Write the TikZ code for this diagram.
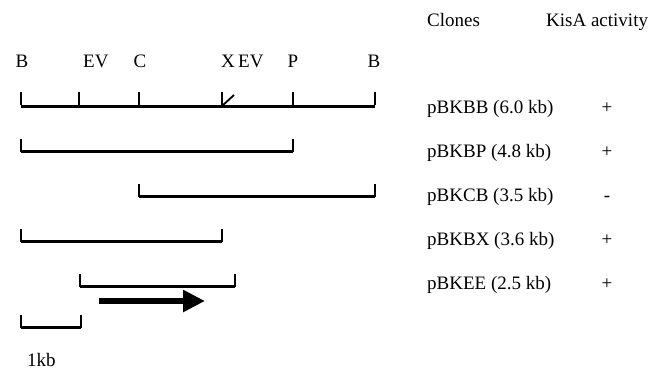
\documentclass[tikz,border=0pt]{standalone}
\usepackage{fontspec}
\setmainfont{Liberation Serif}
\usetikzlibrary{arrows.meta}
\begin{document}
\begin{tikzpicture}[x=1pt,y=-1pt,
  lbl/.style={font=\fontsize{19}{21}\selectfont, inner sep=0pt},
  bar/.style={line width=3pt, line cap=butt},
  tick/.style={line width=1.8pt},
]
\useasboundingbox (0,0) rectangle (654,373);
% header
\node[lbl, anchor=base west] (hclones) at (427,26) {Clones};
\node[lbl, anchor=base west] (hkisa) at (546,26) {KisA activity};
% site labels
\node[lbl, anchor=base] (lB1) at (22,67) {B};
\node[lbl, anchor=base west] (lEV1) at (83,67) {EV};
\node[lbl, anchor=base] (lC) at (140,67) {C};
\node[lbl, anchor=base west] (lX) at (221,67) {X};
\node[lbl, anchor=base west] (lEV2) at (238,67) {EV};
\node[lbl, anchor=base] (lP) at (293,67) {P};
\node[lbl, anchor=base] (lB2) at (374,67) {B};
% site coordinates
\coordinate (B1) at (21,106);
\coordinate (EV1) at (79,106);
\coordinate (C) at (139,106);
\coordinate (X) at (222,106);
\coordinate (P) at (293,106);
\coordinate (B2) at (375,106);
% row 1 : full map
\draw[bar] (B1) -- (B2);
\foreach \p in {B1,EV1,C,X,P,B2} \draw[tick] ([yshift=0.8pt]\p) -- ++(0,-13);
\draw[tick] (X) -- ++(12,-11);
% row 2 : B-P
\draw[bar] (21,151) -- (293,151);
\draw[tick] (21,151.8) -- ++(0,-13);
\draw[tick] (293,151.8) -- ++(0,-13);
% row 3 : C-B
\draw[bar] (139,196) -- (375,196);
\draw[tick] (139,196.8) -- ++(0,-13);
\draw[tick] (375,196.8) -- ++(0,-13);
% row 4 : B-X
\draw[bar] (21,241) -- (222,241);
\draw[tick] (21,241.8) -- ++(0,-13);
\draw[tick] (222,241.8) -- ++(0,-13);
% row 5 : EV-EV
\draw[bar] (80,286) -- (235,286);
\draw[tick] (80,286.8) -- ++(0,-13);
\draw[tick] (235,286.8) -- ++(0,-13);
% gene arrow
\coordinate (a0) at (99,301);
\coordinate (a1) at (205,301);
\draw[line width=5.5pt, -{Triangle[length=22pt, width=21pt]}] (a0) -- (a1);
% scale bar
\draw[bar] (21,327) -- (81,327);
\draw[tick] (21,327.8) -- ++(0,-13);
\draw[tick] (81,327.8) -- ++(0,-13);
\node[lbl, anchor=base west] (kb) at (27,366) {1kb};
% clones
\node[lbl, anchor=base west] (c1) at (427,113) {pBKBB (6.0 kb)};
\node[lbl, anchor=base west] (c2) at (427,157) {pBKBP (4.8 kb)};
\node[lbl, anchor=base west] (c3) at (427,201) {pBKCB (3.5 kb)};
\node[lbl, anchor=base west] (c4) at (427,245) {pBKBX (3.6 kb)};
\node[lbl, anchor=base west] (c5) at (427,289) {pBKEE (2.5 kb)};
\node[lbl, anchor=base] (k1) at (607,113) {+};
\node[lbl, anchor=base] (k2) at (607,157) {+};
\node[lbl, anchor=base] (k3) at (607,201) {-};
\node[lbl, anchor=base] (k4) at (607,245) {+};
\node[lbl, anchor=base] (k5) at (607,289) {+};
\end{tikzpicture}
\end{document}
